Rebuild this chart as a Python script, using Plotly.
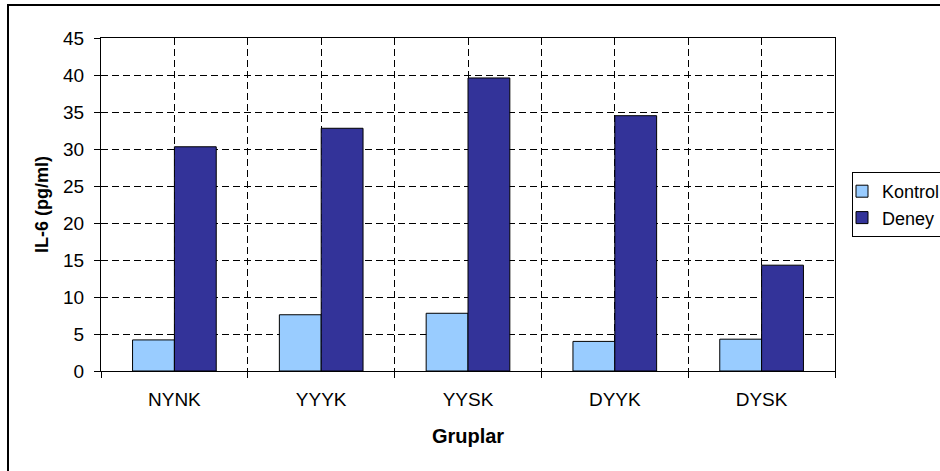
import plotly.graph_objects as go

groups = ["NYNK", "YYYK", "YYSK", "DYYK", "DYSK"]
kontrol = [4.2, 7.6, 7.8, 4.0, 4.3]
deney = [30.3, 32.8, 39.6, 34.5, 14.3]
series_names = ["Kontrol", "Deney"]
y_ticks = [0, 5, 10, 15, 20, 25, 30, 35, 40, 45]

W, H = 940, 471
L, R, T, B = 101, 105, 38, 100
pw, ph = W - L - R, H - T - B

def px_x(p):
    return (p - L) / pw

def px_y(p):
    return (H - B - p) / ph

FONT = "Liberation Sans, Arial, sans-serif"
xpos = list(range(len(groups)))

fig = go.Figure()
fig.add_trace(go.Bar(x=xpos, y=kontrol, name=series_names[0], legendgroup="a",
                     marker=dict(color="#99CCFF", line=dict(color="#000000", width=1))))
fig.add_trace(go.Bar(x=xpos, y=deney, name=series_names[1], legendgroup="b",
                     marker=dict(color="#333399", line=dict(color="#000000", width=1))))

grid = dict(showgrid=True, gridcolor="#000000", gridwidth=1, griddash="7px,4px")

fig.update_layout(
    width=W, height=H,
    margin=dict(l=L, r=R, t=T, b=B, autoexpand=False),
    paper_bgcolor="white", plot_bgcolor="white",
    font=dict(family=FONT, size=19, color="#000000"),
    barmode="group", bargap=0.43, bargroupgap=0,
    xaxis=dict(
        range=[-0.5, len(groups) - 0.5],
        tickmode="array", tickvals=xpos, ticktext=groups, ticks="",
        **grid,
        minor=dict(tickmode="array",
                   tickvals=[i - 0.5 for i in range(len(groups) + 1)],
                   ticks="outside", ticklen=6, tickcolor="#000000",
                   showgrid=True, gridcolor="#000000", gridwidth=1, griddash="7px,4px"),
        showline=True, linecolor="#000000", linewidth=1, mirror=True,
        ticklabelstandoff=11,
        title=dict(text="<b>Gruplar</b>", font=dict(size=20), standoff=20),
        zeroline=False, fixedrange=True,
    ),
    yaxis=dict(
        range=[0, 45], tickmode="array", tickvals=y_ticks,
        ticks="outside", ticklen=6, tickcolor="#000000",
        **grid,
        showline=True, linecolor="#000000", linewidth=1, mirror=True,
        ticklabelstandoff=6,
        title=dict(text="<b>IL-6 (pg/ml)</b>", font=dict(size=18), standoff=9),
        zeroline=False,
    ),
    showlegend=True,
    legend=dict(
        x=px_x(852), y=px_y(172), xanchor="left", yanchor="top",
        bordercolor="#000000", borderwidth=1, bgcolor="white",
        font=dict(size=18), indentation=-11, tracegroupgap=6,
        traceorder="normal",
    ),
    shapes=[dict(type="rect", xref="paper", yref="paper",
                 x0=px_x(8), x1=px_x(960), y0=px_y(490), y1=px_y(5),
                 line=dict(color="#000000", width=2), fillcolor="rgba(0,0,0,0)", layer="above")],
)

fig.write_html("out.html",
               config={"displayModeBar": False},
               post_script="document.body.style.margin='0';document.body.style.padding='0';")
